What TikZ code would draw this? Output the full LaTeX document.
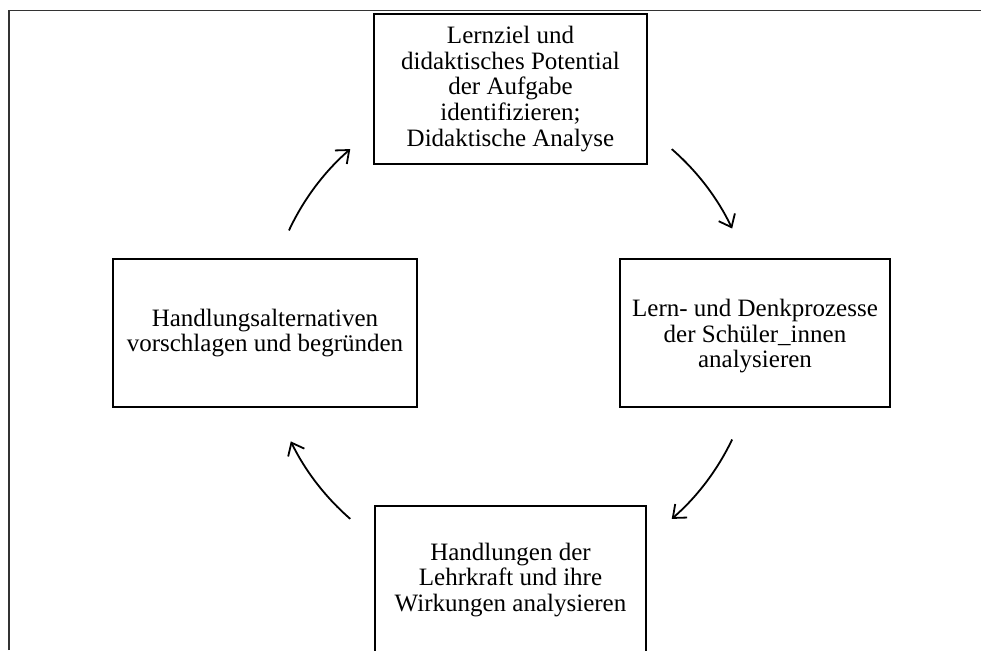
\documentclass[tikz,border=0pt]{standalone}
\usepackage{fontspec}
\setmainfont{Liberation Serif}
\usetikzlibrary{arrows.meta,calc}
\begin{document}
\begin{tikzpicture}[x=1pt,y=1pt,
  box/.style={draw=black,line width=1.9pt,align=center,inner sep=0pt,
    font=\fontsize{25}{25.8}\selectfont},
  arr/.style={line width=1.8pt,-{Straight Barb[length=11pt,width=18pt]}},
  frame/.style={draw=black!80,line width=1.6pt}]
\useasboundingbox (0,0) rectangle (981,650);
\clip (0,0) rectangle (981,650);
\fill[white] (0,0) rectangle (981,650);
\coordinate (fb) at (9,0);
\coordinate (fc) at (9,639.5);
\coordinate (fr) at (981,639.5);
\draw[frame] (fb) -- (fc) -- (fr);
\node[box,minimum width=273,minimum height=150] (top) at (510.5,561)
  {Lernziel und\\didaktisches Potential\\der Aufgabe\\identifizieren;\\Didaktische Analyse};
\node[box,minimum width=270,minimum height=148] (right) at (755,317)
  {\raisebox{-4pt}[\height][\depth]{\begin{tabular}{@{}c@{}}Lern- und Denkprozesse\\der Schüler\_innen\\analysieren\end{tabular}}};
\node[box,minimum width=304,minimum height=148] (left) at (265,317)
  {Handlungsalternativen\\vorschlagen und begründen};
\node[box,minimum width=271,minimum height=148] (bottom) at (510.5,70)
  {Handlungen der\\Lehrkraft und ihre\\Wirkungen analysieren};
\coordinate (ctr) at (511,316);
\coordinate (s1) at ($(ctr)+(155:245)$);
\coordinate (s2) at ($(ctr)+(49:245)$);
\coordinate (s3) at ($(ctr)+(-25.5:245)$);
\coordinate (s4) at ($(ctr)+(-131:245)$);
\draw[arr] (s1) arc[start angle=155,end angle=131,radius=245];
\draw[arr] (s2) arc[start angle=49,end angle=25.5,radius=245];
\draw[arr] (s3) arc[start angle=-25.5,end angle=-49,radius=245];
\draw[arr] (s4) arc[start angle=-131,end angle=-154,radius=245];
\end{tikzpicture}
\end{document}
